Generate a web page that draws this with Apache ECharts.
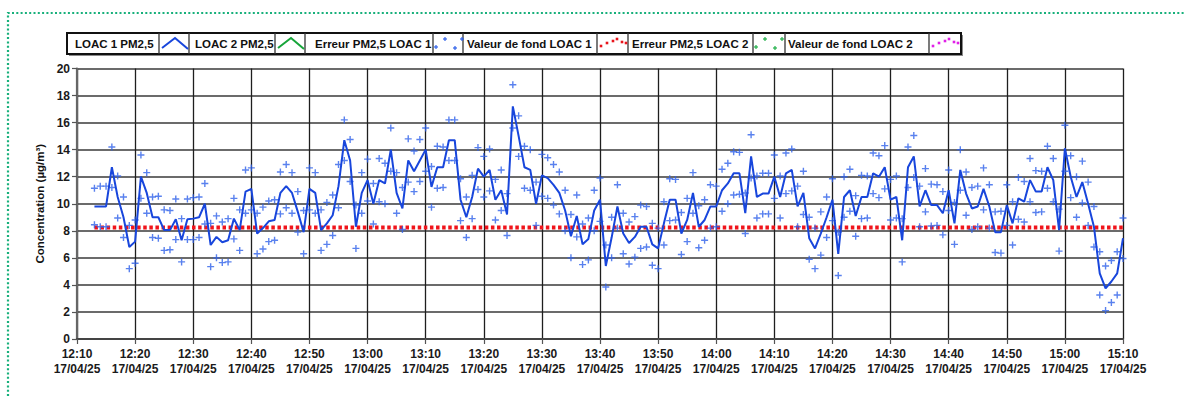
<!DOCTYPE html>
<html><head><meta charset="utf-8">
<script src="https://cdn.jsdelivr.net/npm/echarts@6/dist/echarts.min.js"></script>
<style>html,body{margin:0;padding:0;background:#fff;}#c{width:1184px;height:396px;}</style>
</head><body><div id="c"></div>
<script>
// ---- data ----
const xTickTimes = ['12:10','12:20','12:30','12:40','12:50','13:00','13:10','13:20','13:30','13:40','13:50','14:00','14:10','14:20','14:30','14:40','14:50','15:00','15:10'];
const xTickDate = '17/04/25';
const yTicks = [0, 20, 2]; // min, max, step
const firstMinute = 3;      // first sample: 12:13 (minutes after 12:10), one sample per minute
const loac1Pm25 = [
  9.8, 9.8, 9.8, 12.7, 10.5, 9.0, 6.8, 7.2, 12.0, 10.8,
  9.0, 9.0, 8.05, 8.05, 8.85, 7.3, 8.85, 8.9, 9.0, 10.0,
  6.95, 7.55, 7.15, 7.3, 8.9, 8.05, 10.9, 11.1, 7.8, 8.2,
  8.7, 8.8, 10.8, 11.3, 10.8, 9.4, 7.9, 11.1, 10.8, 8.05,
  8.55, 9.15, 11.3, 14.7, 13.2, 8.3, 10.8, 11.75, 10.0, 11.75,
  11.5, 14.0, 10.8, 9.65, 13.2, 12.4, 13.2, 14.0, 11.25, 12.7,
  12.7, 14.7, 14.7, 10.3, 9.0, 10.5, 12.6, 12.0, 12.5, 10.3,
  11.0, 9.2, 17.2, 15.0, 12.7, 12.5, 10.0, 12.1, 11.9, 11.4,
  10.8, 9.5, 7.6, 9.1, 7.0, 7.4, 9.5, 10.3, 5.4, 7.5,
  9.8, 7.8, 7.1, 7.55, 8.3, 8.3, 7.0, 6.7, 8.55, 10.3,
  10.3, 7.8, 8.8, 10.8, 8.3, 8.8, 9.8, 9.8, 11.0, 11.5,
  12.25, 12.25, 9.3, 13.5, 10.5, 10.75, 10.75, 12.0, 10.5, 12.25,
  12.5, 9.8, 10.8, 7.45, 6.7, 7.8, 9.0, 10.3, 6.3, 10.5,
  11.0, 9.1, 10.5, 10.5, 12.25, 12.0, 12.7, 10.3, 10.5, 7.3,
  12.7, 13.5, 9.8, 11.0, 9.9, 9.9, 9.3, 11.0, 8.55, 12.5,
  10.75, 9.65, 9.8, 11.1, 9.8, 7.9, 7.9, 9.9, 8.55, 10.4,
  10.15, 11.75, 10.9, 10.9, 12.7, 11.75, 8.05, 14.1, 12.0, 10.5,
  11.6, 10.0, 8.3, 4.85, 3.75, 4.25, 4.85, 7.45
];
const loac1Err = [
  1.35,1.5,1.5,1.5,1.55,1.5,1.6,1.6,1.6,1.5,
  1.5,1.55,1.5,1.45,1.5,1.6,1.5,1.55,1.5,1.5,
  1.6,1.55,1.5,1.6,1.5,1.5,1.6,1.55,1.5,1.55,
  1.5,1.5,1.55,1.6,1.5,1.5,1.6,1.55,1.5,1.5,
  1.55,1.5,1.6,1.5,1.55,1.6,1.5,1.55,1.5,1.6,
  1.5,1.6,1.5,1.55,1.6,1.5,1.55,1.6,1.5,1.55,
  1.5,1.5,1.5,1.55,1.5,1.6,1.55,1.5,1.55,1.5,
  1.5,1.55,1.6,1.5,1.55,1.5,1.6,1.55,1.5,1.5,
  1.55,1.5,1.6,1.55,1.5,1.55,1.5,1.6,1.55,1.5,
  1.6,1.5,1.55,1.5,1.6,1.5,1.55,1.5,1.6,1.55,
  1.5,1.55,1.6,1.5,1.55,1.5,1.6,1.5,1.55,1.5,
  1.6,1.55,1.5,1.6,1.55,1.5,1.5,1.6,1.55,1.5,
  1.55,1.5,1.6,1.55,1.5,1.6,1.5,1.55,1.6,1.5,
  1.55,1.5,1.6,1.55,1.5,1.55,1.6,1.5,1.55,1.6,
  1.5,1.55,1.5,1.6,1.55,1.5,1.6,1.5,1.55,1.5,
  1.6,1.55,1.5,1.55,1.6,1.5,1.55,1.5,1.6,1.55,
  1.5,1.6,1.55,1.5,1.55,1.6,1.55,1.7,1.55,1.5,
  1.55,1.6,1.5,1.6,1.65,1.55,1.6,1.5
];
const fondLoac1 = 8.25;
const legendLabels = ['LOAC 1 PM2,5','LOAC 2 PM2,5','Erreur PM2,5 LOAC 1','Valeur de fond LOAC 1','Erreur PM2,5 LOAC 2','Valeur de fond LOAC 2'];
const yAxisName = 'Concentration (µg/m³)';

// ---- build ----
const times = loac1Pm25.map((_, i) => firstMinute + i);
const lineData = loac1Pm25.map((v, i) => [times[i], v]);
const errData = [];
loac1Pm25.forEach((v, i) => {
  errData.push([times[i], v + loac1Err[i]]);
  errData.push([times[i], v - loac1Err[i]]);
});
const fondData = [[times[0], fondLoac1], [times[times.length - 1], fondLoac1]];

const FONT = '"Liberation Sans", Arial, sans-serif';
const BLUE = '#1846dc';
const CROSS = '#2f62ea';
const plus = 'path://M4,0H6V4H10V6H6V10H4V6H0V4H4Z';

// legend graphics (layout only)
const LT = 33, LH = 21, LL = 67, LR = 961;
const textCells = [[67,159],[189,275],[305,433],[463,597],[628,753],[785,929]];
const textX = [75,195,315,467,632,788];
const g = [];
g.push({type:'polyline', shape:{points:[[8,396],[8,13],[1184,13]]}, style:{fill:null, stroke:'#17b07b', lineWidth:2.2, lineDash:[2,2.3]}, silent:true});
g.push({type:'rect', shape:{x:LL+2, y:LT+2, width:LR-LL, height:LH}, style:{fill:'#8a8a8a'}, silent:true});
g.push({type:'rect', shape:{x:LL, y:LT, width:LR-LL, height:LH}, style:{fill:'#fff', stroke:'#111', lineWidth:2}, silent:true});
const seps = [159,189,275,305,433,463,597,628,753,785,929];
seps.forEach(x => g.push({type:'line', shape:{x1:x, y1:LT, x2:x, y2:LT+LH}, style:{stroke:'#333', lineWidth:1.3}, silent:true}));
legendLabels.forEach((t, i) => g.push({type:'text', x:textX[i], y:LT+LH/2+0.5, style:{text:t, font:'bold 11.5px ' + FONT, fill:'#111', verticalAlign:'middle', align:'left'}, silent:true}));
// swatches
function caret(x0, color){ g.push({type:'polyline', shape:{points:[[x0+3,LT+15],[x0+16,LT+5],[x0+29,LT+16]]}, style:{fill:null, stroke:color, lineWidth:2}, silent:true}); }
caret(159, BLUE); caret(275, '#17a53a');
function crosses(x0, color){
  [[3,14],[12,6],[22,15],[29,6]].forEach(p => {
    const cx = x0+p[0], cy = LT+p[1];
    g.push({type:'line', shape:{x1:cx-2,y1:cy,x2:cx+2,y2:cy}, style:{stroke:color, lineWidth:1.2}, silent:true});
    g.push({type:'line', shape:{x1:cx,y1:cy-2,x2:cx,y2:cy+2}, style:{stroke:color, lineWidth:1.2}, silent:true});
  });
}
crosses(433, CROSS); crosses(753, '#22b04a');
function dots(x0, color){
  [[4,13],[10,10],[16,8],[20,6],[25,9],[29,10]].forEach(p => g.push({type:'rect', shape:{x:x0+p[0]-1.3, y:LT+p[1]-1.3, width:2.6, height:2.6}, style:{fill:color}, silent:true}));
}
dots(597, '#e8141b'); dots(929, '#e020e8');

const chart = echarts.init(document.getElementById('c'), null, {renderer:'svg'});
chart.setOption({
  animation:false,
  backgroundColor:'#fff',
  grid:{left:77, right:61, top:68.5, bottom:57},
  xAxis:{
    type:'value', min:0, max:180, interval:10,
    axisLine:{show:true, lineStyle:{color:'#444', width:2}},
    axisTick:{show:true, length:5, lineStyle:{color:'#555', width:1.2}},
    splitLine:{show:true, lineStyle:{color:'#1e1e1e', width:1.3}},
    axisLabel:{
      showMinLabel:true, showMaxLabel:true, margin:7,
      fontFamily:FONT, fontWeight:'bold', fontSize:12, color:'#1a1a1a', lineHeight:15,
      formatter: v => xTickTimes[Math.round(v/10)] + '\n' + xTickDate
    }
  },
  yAxis:{
    type:'value', min:yTicks[0], max:yTicks[1], interval:yTicks[2],
    name:yAxisName, nameLocation:'middle', nameGap:28, nameRotate:90,
    nameTextStyle:{fontFamily:FONT, fontWeight:'bold', fontSize:11.5, color:'#111'},
    axisLine:{show:true, lineStyle:{color:'#666', width:2.2}},
    axisTick:{show:true, length:5, lineStyle:{color:'#555', width:1.2}},
    splitLine:{show:true, lineStyle:{color:'#3a3a3a', width:1.6}},
    axisLabel:{margin:7, fontFamily:FONT, fontWeight:'bold', fontSize:12, color:'#1a1a1a'}
  },
  series:[
    {name:legendLabels[3], type:'line', data:fondData, showSymbol:false, z:2,
     lineStyle:{color:'#f0141b', width:4, type:[3.5,2.6], cap:'butt'}},
    {name:legendLabels[2], type:'scatter', data:errData, symbol:plus, symbolSize:7, z:3,
     itemStyle:{color:CROSS}},
    {name:legendLabels[0], type:'line', data:lineData, showSymbol:false, z:4,
     lineStyle:{color:BLUE, width:2}}
  ],
  graphic:g
});
</script></body></html>
